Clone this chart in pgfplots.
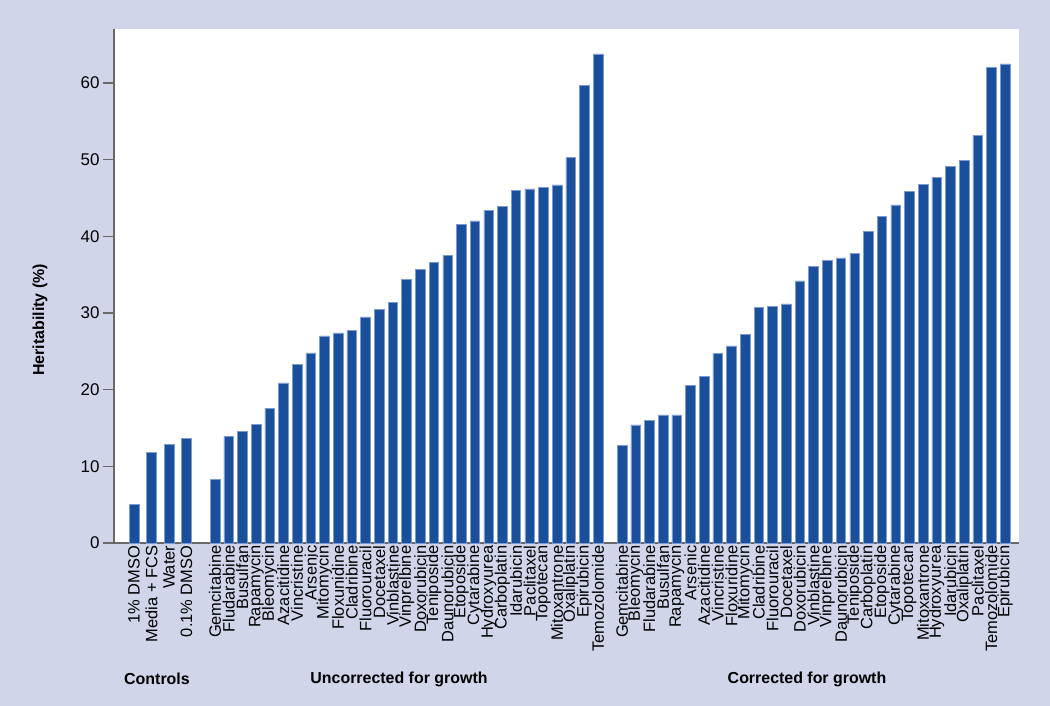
\documentclass[border=0pt]{standalone}
\usepackage{fontspec}
\setmainfont{Liberation Sans}
\usepackage{pgfplots}
\usepackage{pgfplotstable}
\pgfplotsset{compat=1.18}
\definecolor{bgc}{RGB}{209,213,234}
\definecolor{barc}{RGB}{25,79,155}
\definecolor{edgec}{RGB}{125,155,210}
\definecolor{axc}{RGB}{105,105,105}

\pgfplotstableread[col sep=comma]{
x,h
-5.92,5.0
-4.64,11.8
-3.36,12.9
-2.08,13.6
0,8.3
1,13.9
2,14.6
3,15.5
4,17.6
5,20.9
6,23.3
7,24.8
8,27.0
9,27.4
10,27.7
11,29.5
12,30.5
13,31.4
14,34.4
15,35.7
16,36.6
17,37.5
18,41.6
19,42.0
20,43.4
21,43.9
22,46.0
23,46.2
24,46.4
25,46.7
26,50.3
27,59.7
28,63.8
29.75,12.7
30.75,15.4
31.75,16.0
32.75,16.7
33.75,16.7
34.75,20.6
35.75,21.7
36.75,24.7
37.75,25.7
38.75,27.2
39.75,30.7
40.75,30.9
41.75,31.2
42.75,34.2
43.75,36.1
44.75,36.9
45.75,37.2
46.75,37.8
47.75,40.6
48.75,42.6
49.75,44.1
50.75,45.9
51.75,46.8
52.75,47.7
53.75,49.1
54.75,49.9
55.75,53.2
56.75,62.0
57.75,62.5
}\data

\begin{document}
\begin{tikzpicture}
\fill[bgc] (0,0) rectangle (1050bp,706bp);
\useasboundingbox (0,0) rectangle (1050bp,706bp);
\begin{axis}[
  at={(114bp,163bp)}, anchor=south west,
  scale only axis, width=905bp, height=514bp,
  xmin=-7.38, xmax=58.77, ymin=0, ymax=67.04,
  axis x line*=bottom, axis y line*=left,
  axis line style={axc, line width=1.3bp, -},
  axis background/.style={fill=white},
  ytick={0,10,...,60},
  ytick align=outside,
  major tick length=11bp,
  y tick style={axc, line width=1.3bp},
  x tick style={draw=none},
  xtick=data,
  xticklabels={1\% DMSO, Media + FCS, Water, 0.1\% DMSO,
    Gemcitabine, Fludarabine, Busulfan, Rapamycin, Bleomycin, Azacitidine, Vincristine, Arsenic, Mitomycin, Floxunidine, Cladribine, Fluorouracil, Docetaxel, Vinblastine, Vinprelbine, Doxorubicin, Teniposide, Daunorubicin, Etoposide, Cytarabine, Hydroxyurea, Carboplatin, Idarubicin, Paclitaxel, Topotecan, Mitoxantrone, Oxaliplatin, Epirubicin, Temozolomide,
    Gemcitabine, Bleomycin, Fludarabine, Busulfan, Rapamycin, Arsenic, Azacitidine, Vincristine, Floxuridine, Mitomycin, Cladribine, Fluorouracil, Docetaxel, Doxorubicin, Vinblastine, Vinprelbine, Daunorubicin, Teniposide, Carboplatin, Etoposide, Cytarabine, Topotecan, Mitoxantrone, Hydroxyurea, Idarubicin, Oxaliplatin, Paclitaxel, Temozolomide, Epirubicin},
  xticklabel style={rotate=90, anchor=east, font=\fontsize{16.5}{19}\selectfont, inner sep=2.5bp},
  yticklabel style={font=\fontsize{17}{20}\selectfont},
  /pgf/number format/assume math mode=true,
  ylabel={Heritability (\%)},
  ylabel style={at={(rel axis cs:-0.0818,0.434)}, anchor=center, font=\bfseries\fontsize{16}{19}\selectfont},
  clip=false,
]
\addplot[ybar, bar width=0.7, bar shift=0pt, fill=barc, draw=edgec, line width=0.5bp] table[x=x,y=h]{\data};
\end{axis}
\node[font=\bfseries\fontsize{16}{19}\selectfont] at (157bp,27bp) {Controls};
\node[font=\bfseries\fontsize{16}{19}\selectfont] at (399bp,27bp) {Uncorrected for growth};
\node[font=\bfseries\fontsize{16}{19}\selectfont] at (807bp,27bp) {Corrected for growth};
\end{tikzpicture}
\end{document}
